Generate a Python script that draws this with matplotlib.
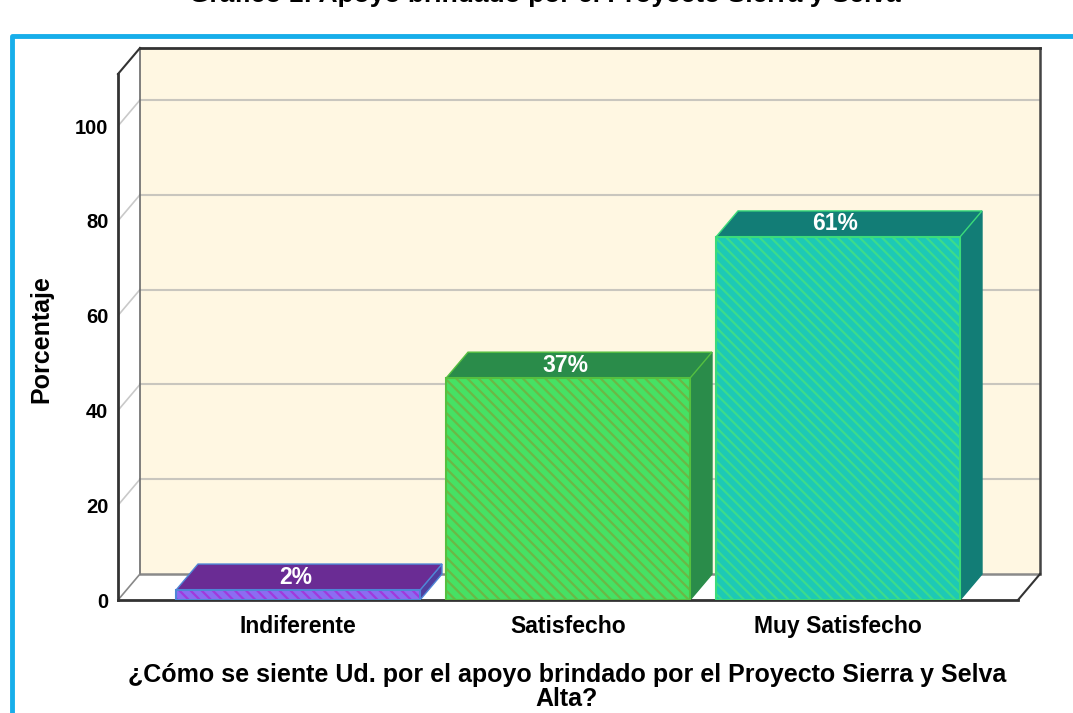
import matplotlib.pyplot as plt
from matplotlib.patches import Polygon, Rectangle
from matplotlib.lines import Line2D

plt.rcParams["font.family"] = ["Liberation Sans", "DejaVu Sans"]
plt.rcParams["hatch.linewidth"] = 1.6

# ============================================================
# Datos
# ============================================================
categorias = ["Indiferente", "Satisfecho", "Muy Satisfecho"]
alturas = [2.1, 46.8, 76.6]          # altura dibujada de cada barra (%)
etiquetas = ["2%", "37%", "61%"]     # etiquetas que muestra el gráfico
yticks = [0, 20, 40, 60, 80, 100]

titulo = "Gráfico 1: Apoyo brindado por el Proyecto Sierra y Selva"
xlabel = "¿Cómo se siente Ud. por el apoyo brindado por el Proyecto Sierra y Selva\nAlta?"
ylabel = "Porcentaje"

# colores (frente, rayas, techo, lado, borde)
frente = ["#8C6CF2", "#46E164", "#1DC9B6"]
rayas = ["#A03ADC", "#6BB846", "#3CDB8C"]
techo = ["#6A2C94", "#2A8C4A", "#127D76"]
lado = ["#503E9E", "#2A8C4A", "#127D76"]
borde = ["#4F86D6", "#55C040", "#3BDB7A"]

# ============================================================
# Figura y ejes (perspectiva 3D simulada)
# ============================================================
W, H = 1073, 713
fig = plt.figure(figsize=(W / 100, H / 100), dpi=100)
ax = fig.add_axes([118 / W, 113 / H, 922 / W, 552 / H])

px_x = 270.0     # pixeles por categoría
px_y = 4.74      # pixeles por punto porcentual
x0 = -2 / 3
x1 = x0 + 900 / px_x
dx = 22 / px_x
dy = 26 / px_y
ytop = 552 / px_y
ax.set_xlim(x0, x0 + 922 / px_x)
ax.set_ylim(0, ytop)
for s in ax.spines.values():
    s.set_visible(False)
ax.patch.set_alpha(0)

# pared del fondo, piso y pared izquierda
ax.add_patch(Rectangle((x0 + dx, dy), x1 - x0, ytop - dy, facecolor="#FFF7E2",
                       edgecolor="none", zorder=0))
ax.add_patch(Polygon([(x0, 0), (x1, 0), (x1 + dx, dy), (x0 + dx, dy)],
                     facecolor="white", edgecolor="none", zorder=0))
ax.add_patch(Polygon([(x0, 0), (x0, ytop - dy), (x0 + dx, ytop), (x0 + dx, dy)],
                     facecolor="white", edgecolor="none", zorder=0))

# líneas de cuadrícula
for v in yticks[1:]:
    ax.plot([x0 + dx, x1 + dx], [v + dy, v + dy], color="#C9C6BE", lw=1.5, zorder=1)
    ax.plot([x0, x0 + dx], [v, v + dy], color="#C9C9C9", lw=1.2, zorder=1)
ax.plot([x0 + dx, x1 + dx], [dy, dy], color="#8A8A8A", lw=1.8, zorder=1)
ax.plot([x0 + dx, x0 + dx], [dy, ytop], color="#6A6A6A", lw=1.2, zorder=1)

# bordes del marco
kw = dict(color="#333333", lw=2, zorder=5, clip_on=False, solid_capstyle="projecting")
ax.plot([x0 + dx, x1 + dx], [ytop, ytop], **kw)
ax.plot([x1 + dx, x1 + dx], [dy, ytop], color="#444444", lw=1.8, zorder=1, clip_on=False)
ax.plot([x0, x0], [0, ytop - dy], **kw)
ax.plot([x0, x0 + dx], [ytop - dy, ytop], color="#333333", lw=1.5, zorder=5, clip_on=False)
ax.plot([x1, x1 + dx], [0, dy], color="#333333", lw=1.5, zorder=5, clip_on=False)
ax.plot([x0, x0 + dx], [0, dy], color="#888888", lw=1.2, zorder=1)
ax.plot([x0, x1], [0, 0], **kw)

# barras
w = 244 / px_x / 2
for i, (h, lab) in enumerate(zip(alturas, etiquetas)):
    c = i
    ax.add_patch(Polygon([(c + w, 0), (c + w + dx, dy), (c + w + dx, h + dy), (c + w, h)],
                         facecolor=lado[i], edgecolor=borde[i] if i == 0 else lado[i],
                         lw=1, zorder=3))
    ax.add_patch(Polygon([(c - w, h), (c + w, h), (c + w + dx, h + dy), (c - w + dx, h + dy)],
                         facecolor=techo[i], edgecolor=borde[i], lw=1, zorder=3))
    ax.add_patch(Rectangle((c - w, 0), 2 * w, h, facecolor=frente[i], edgecolor=rayas[i],
                           hatch="\\\\\\", lw=0, zorder=4))
    ax.add_patch(Rectangle((c - w, 0), 2 * w, h, fill=False, edgecolor=borde[i],
                           lw=1.5, zorder=6))
    ax.text(c - 0.01, h + dy / 2, lab, color="white", fontsize=16.5, fontweight="bold",
            ha="center", va="center", zorder=7)

# ejes y textos
ax.set_yticks(yticks)
ax.set_yticklabels([str(v) for v in yticks], fontsize=14.5, fontweight="bold")
ax.set_xticks(range(len(categorias)))
ax.set_xticklabels(categorias, fontsize=16.5, fontweight="bold")
ax.tick_params(axis="y", length=0, pad=7)
ax.tick_params(axis="x", length=0, pad=11)

fig.text(41 / W, 1 - 339 / H, ylabel, rotation=90, ha="center", va="center",
         fontsize=18, fontweight="bold")
fig.text(567 / W, 1 - 687 / H, xlabel, ha="center", va="center", fontsize=18,
         fontweight="bold", linespacing=0.95)
fig.text(545 / W, 1.0065, titulo, ha="center", va="center", fontsize=19, fontweight="bold")

# marco azul
fig.add_artist(Line2D([12 / W, 12 / W, 1], [0, 1 - 36 / H, 1 - 36 / H],
                      color="#17AEEA", lw=3.5, transform=fig.transFigure))

plt.savefig("out.png", dpi=100)
plt.close()
